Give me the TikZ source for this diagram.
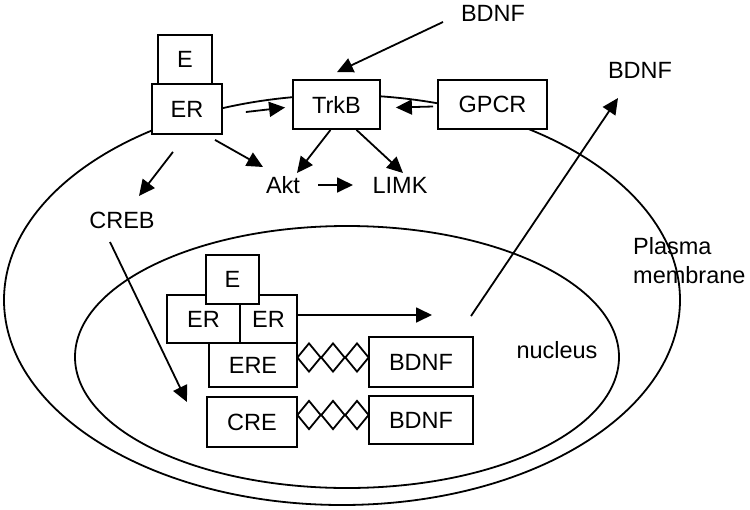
\documentclass[tikz,border=0pt]{standalone}
\usepackage{fontspec}
\setmainfont{Liberation Sans}
\usetikzlibrary{arrows.meta,shapes.geometric}
\begin{document}
\begin{tikzpicture}[x=1pt,y=-1pt,
 box/.style={draw, fill=white, line width=1.8pt, inner sep=0pt, font=\fontsize{23.5}{27}\selectfont},
 lbl/.style={inner sep=0pt, font=\fontsize{23.5}{27}\selectfont},
 arr/.style={line width=1.8pt, -{Triangle[length=16pt,width=15pt]}},
 oval/.style={draw, ellipse, line width=1.8pt, inner sep=0pt},
 knot/.style={draw, diamond, line width=1.8pt, inner sep=0pt, minimum width=24pt, minimum height=29pt}]
\useasboundingbox (0,0) rectangle (750,509);
% membranes
\node[oval, minimum width=676pt, minimum height=410pt] (cell) at (342,300) {};
\node[oval, minimum width=544pt, minimum height=262pt] (nuc) at (347,357) {};
% top boxes
\node[box, minimum width=54pt, minimum height=49pt] (E1) at (185,59.5) {E};
\node[box, minimum width=70pt, minimum height=50pt] (ER1) at (187,109) {ER};
\node[box, minimum width=87pt, minimum height=49pt] (TrkB) at (336.5,104.5) {TrkB};
\node[box, minimum width=109pt, minimum height=49pt] (GPCR) at (492.5,104.5) {GPCR};
% labels
\node[lbl] (BDNFt) at (493,13) {BDNF};
\node[lbl] (BDNFr) at (640,70) {BDNF};
\node[lbl] (Akt) at (283,185) {Akt};
\node[lbl] (LIMK) at (400,185) {LIMK};
\node[lbl] (CREB) at (122,220) {CREB};
\node[lbl, anchor=west, align=left, font=\fontsize{23.5}{29}\selectfont] (PM) at (633,261) {Plasma\\membrane};
\node[lbl] (nucl) at (557,350) {nucleus};
% nucleus boxes
\node[box, minimum width=73pt, minimum height=48pt] (ERa) at (203.5,319) {ER};
\node[box, minimum width=57pt, minimum height=48pt] (ERb) at (268.5,319) {ER};
\node[box, minimum width=53pt, minimum height=49pt] (E2) at (232.5,279.5) {E};
\node[box, minimum width=88pt, minimum height=44pt] (ERE) at (253,365) {ERE};
\node[box, minimum width=90pt, minimum height=50pt] (CRE) at (252,422) {CRE};
\node[box, minimum width=104pt, minimum height=50pt] (BDNF1) at (421,362) {BDNF};
\node[box, minimum width=104pt, minimum height=48pt] (BDNF2) at (421,420) {BDNF};
% diamonds
\node[knot] (d1) at (309,357.5) {};
\node[knot] (d2) at (333,357.5) {};
\node[knot] (d3) at (357,357.5) {};
\node[knot] (d4) at (309,415) {};
\node[knot] (d5) at (333,415) {};
\node[knot] (d6) at (357,415) {};
% arrows
\draw[arr] ([shift={(-50,9)}]BDNFt.center) -- ([shift={(0.5,-7)}]TrkB.north);
\draw[arr] ([shift={(23,3)}]ER1.east) -- ([shift={(-7,3)}]TrkB.west);
\draw[arr] ([shift={(-4,2)}]GPCR.west) -- ([shift={(15,3)}]TrkB.east);
\draw[arr] ([shift={(-14,17)}]ER1.south) -- ([shift={(17,-24)}]CREB.center);
\draw[arr] ([shift={(28,5)}]ER1.south) -- ([shift={(-20,-18)}]Akt.center);
\draw[arr] ([shift={(-6,0)}]TrkB.south) -- ([shift={(14,-12)}]Akt.center);
\draw[arr] ([shift={(20,0)}]TrkB.south) -- ([shift={(3,-12)}]LIMK.center);
\draw[arr] ([shift={(35,0)}]Akt.center) -- ([shift={(-47,0)}]LIMK.center);
\draw[arr] ([shift={(50,-46)}]BDNF1.center) -- ([shift={(-22,28)}]BDNFr.center);
\coordinate (erout) at (432,315);
\draw[arr] ([shift={(0,-4)}]ERb.east) -- (erout);
\draw[arr] ([shift={(-12,22)}]CREB.center) -- ([shift={(-65,-20)}]CRE.center);
\end{tikzpicture}
\end{document}
